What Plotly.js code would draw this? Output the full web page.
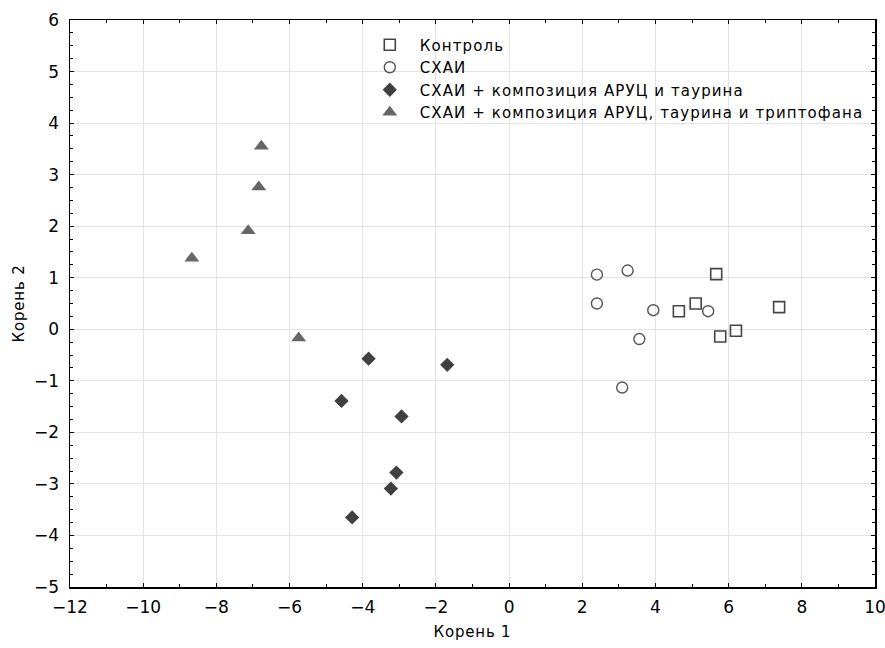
<!DOCTYPE html>
<html>
<head>
<meta charset="utf-8">
<script src="https://cdn.plot.ly/plotly-3.0.1.min.js"></script>
<style>
html,body{margin:0;padding:0;background:#fff;}
#chart{width:885px;height:648px;}
.legendtext { letter-spacing: 1.1px; }
.xtitle, .ytitle { letter-spacing: 0.8px; }
</style>
</head>
<body>
<div id="chart"></div>
<script>
const seriesNames = [
  "Контроль",
  "СХАИ",
  "СХАИ + композиция АРУЦ и таурина",
  "СХАИ + композиция АРУЦ, таурина и триптофана"
];
const controlX = [5.66, 5.10, 4.64, 5.77, 6.20, 7.38];
const controlY = [1.07, 0.50, 0.35, -0.14, -0.03, 0.43];
const schaiX = [2.40, 3.24, 2.40, 3.94, 5.44, 3.56, 3.09];
const schaiY = [1.06, 1.14, 0.50, 0.37, 0.35, -0.19, -1.13];
const taurX = [-3.84, -1.69, -4.58, -2.94, -3.08, -3.23, -4.29];
const taurY = [-0.57, -0.69, -1.39, -1.69, -2.78, -3.09, -3.65];
const tryptX = [-6.77, -6.84, -7.13, -8.67, -5.75];
const tryptY = [3.55, 2.76, 1.91, 1.38, -0.17];
const xTitle = "Корень 1";
const yTitle = "Корень 2";

const fam = "DejaVu Sans, Verdana, sans-serif";
const textFont = {family: fam, size: 15, color: "#000"};
const tickFont = {family: fam, size: 17, color: "#000"};

const traces = [
  {x: controlX, y: controlY, name: seriesNames[0], type: "scatter", mode: "markers",
   marker: {symbol: "square-open", size: 11, color: "#454545", line: {width: 1.6, color: "#454545"}}},
  {x: schaiX, y: schaiY, name: seriesNames[1], type: "scatter", mode: "markers",
   marker: {symbol: "circle-open", size: 11, color: "#555555", line: {width: 1.4, color: "#555555"}}},
  {x: taurX, y: taurY, name: seriesNames[2], type: "scatter", mode: "markers",
   marker: {symbol: "diamond", size: 11, color: "#404040"}},
  {x: tryptX, y: tryptY, name: seriesNames[3], type: "scatter", mode: "markers",
   marker: {symbol: "triangle-up", size: 13, color: "#666666"}}
];

const axisCommon = {
  showline: true, linecolor: "#000", linewidth: 1.5, mirror: "allticks",
  ticks: "inside", ticklen: 4, tickwidth: 1, tickcolor: "#000",
  showgrid: true, gridcolor: "#e3e3e3", gridwidth: 1,
  zeroline: false, tickfont: tickFont, ticklabeloverflow: "allow"
};

const layout = {
  width: 885, height: 648,
  margin: {l: 70, r: 10, t: 20, b: 61},
  paper_bgcolor: "#fff", plot_bgcolor: "#fff",
  font: textFont,
  showlegend: true,
  legend: {x: 0.36, y: 0.985, xanchor: "left", yanchor: "top",
           bgcolor: "rgba(0,0,0,0)", font: textFont, tracegroupgap: 0, itemwidth: 50},
  xaxis: Object.assign({}, axisCommon, {
    range: [-12, 10], dtick: 2, tick0: 0,
    minor: {dtick: 1, ticks: "inside", ticklen: 3, tickcolor: "#000", showgrid: false},
    ticklabelstandoff: 4,
    title: {text: xTitle, font: textFont, standoff: 10}
  }),
  yaxis: Object.assign({}, axisCommon, {
    range: [-5, 6], dtick: 1, tick0: 0,
    minor: {dtick: 0.25, ticks: "inside", ticklen: 3, tickcolor: "#000", showgrid: false},
    ticklabelstandoff: 6,
    title: {text: yTitle, font: textFont, standoff: 6}
  })
};

Plotly.newPlot("chart", traces, layout, {displayModeBar: false, staticPlot: true});
</script>
</body>
</html>
